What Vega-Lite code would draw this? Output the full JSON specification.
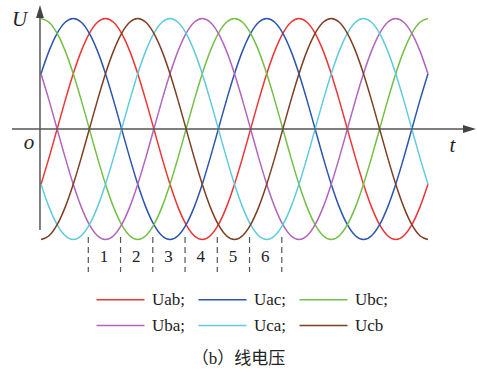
{
  "$schema": "https://vega.github.io/schema/vega-lite/v6.json",
  "width": 477,
  "height": 340,
  "padding": 0,
  "autosize": {"type": "pad"},
  "background": "white",
  "config": {
    "view": {"stroke": null},
    "legend": {
      "orient": "none",
      "legendX": 94,
      "legendY": 291,
      "direction": "horizontal",
      "columns": 3,
      "symbolType": "M-1,0L7,0",
      "symbolSize": 144,
      "symbolStrokeWidth": 1.6,
      "labelFont": "Liberation Serif",
      "labelFontSize": 17,
      "labelColor": "#222",
      "labelOffset": 41,
      "columnPadding": 9,
      "rowPadding": 8,
      "padding": 0
    },
    "title": {"font": "Liberation Serif, Noto Sans CJK SC, serif", "fontSize": 17, "fontWeight": "normal", "color": "#222"}
  },
  "title": {"text": "（b）线电压", "orient": "bottom", "anchor": "middle", "offset": 11},
  "datasets": {
    "waves": [
      {"t": 0, "Uab": -0.5, "Uac": 0.5, "Ubc": 1, "Uba": 0.5, "Uca": -0.5, "Ucb": -1},
      {"t": 15, "Uab": -0.259, "Uac": 0.707, "Ubc": 0.966, "Uba": 0.259, "Uca": -0.707, "Ucb": -0.966},
      {"t": 30, "Uab": 0, "Uac": 0.866, "Ubc": 0.866, "Uba": 0, "Uca": -0.866, "Ucb": -0.866},
      {"t": 45, "Uab": 0.259, "Uac": 0.966, "Ubc": 0.707, "Uba": -0.259, "Uca": -0.966, "Ucb": -0.707},
      {"t": 60, "Uab": 0.5, "Uac": 1, "Ubc": 0.5, "Uba": -0.5, "Uca": -1, "Ucb": -0.5},
      {"t": 75, "Uab": 0.707, "Uac": 0.966, "Ubc": 0.259, "Uba": -0.707, "Uca": -0.966, "Ucb": -0.259},
      {"t": 90, "Uab": 0.866, "Uac": 0.866, "Ubc": 0, "Uba": -0.866, "Uca": -0.866, "Ucb": 0},
      {"t": 105, "Uab": 0.966, "Uac": 0.707, "Ubc": -0.259, "Uba": -0.966, "Uca": -0.707, "Ucb": 0.259},
      {"t": 120, "Uab": 1, "Uac": 0.5, "Ubc": -0.5, "Uba": -1, "Uca": -0.5, "Ucb": 0.5},
      {"t": 135, "Uab": 0.966, "Uac": 0.259, "Ubc": -0.707, "Uba": -0.966, "Uca": -0.259, "Ucb": 0.707},
      {"t": 150, "Uab": 0.866, "Uac": 0, "Ubc": -0.866, "Uba": -0.866, "Uca": 0, "Ucb": 0.866},
      {"t": 165, "Uab": 0.707, "Uac": -0.259, "Ubc": -0.966, "Uba": -0.707, "Uca": 0.259, "Ucb": 0.966},
      {"t": 180, "Uab": 0.5, "Uac": -0.5, "Ubc": -1, "Uba": -0.5, "Uca": 0.5, "Ucb": 1},
      {"t": 195, "Uab": 0.259, "Uac": -0.707, "Ubc": -0.966, "Uba": -0.259, "Uca": 0.707, "Ucb": 0.966},
      {"t": 210, "Uab": 0, "Uac": -0.866, "Ubc": -0.866, "Uba": 0, "Uca": 0.866, "Ucb": 0.866},
      {"t": 225, "Uab": -0.259, "Uac": -0.966, "Ubc": -0.707, "Uba": 0.259, "Uca": 0.966, "Ucb": 0.707},
      {"t": 240, "Uab": -0.5, "Uac": -1, "Ubc": -0.5, "Uba": 0.5, "Uca": 1, "Ucb": 0.5},
      {"t": 255, "Uab": -0.707, "Uac": -0.966, "Ubc": -0.259, "Uba": 0.707, "Uca": 0.966, "Ucb": 0.259},
      {"t": 270, "Uab": -0.866, "Uac": -0.866, "Ubc": 0, "Uba": 0.866, "Uca": 0.866, "Ucb": 0},
      {"t": 285, "Uab": -0.966, "Uac": -0.707, "Ubc": 0.259, "Uba": 0.966, "Uca": 0.707, "Ucb": -0.259},
      {"t": 300, "Uab": -1, "Uac": -0.5, "Ubc": 0.5, "Uba": 1, "Uca": 0.5, "Ucb": -0.5},
      {"t": 315, "Uab": -0.966, "Uac": -0.259, "Ubc": 0.707, "Uba": 0.966, "Uca": 0.259, "Ucb": -0.707},
      {"t": 330, "Uab": -0.866, "Uac": 0, "Ubc": 0.866, "Uba": 0.866, "Uca": 0, "Ucb": -0.866},
      {"t": 345, "Uab": -0.707, "Uac": 0.259, "Ubc": 0.966, "Uba": 0.707, "Uca": -0.259, "Ucb": -0.966},
      {"t": 360, "Uab": -0.5, "Uac": 0.5, "Ubc": 1, "Uba": 0.5, "Uca": -0.5, "Ucb": -1},
      {"t": 375, "Uab": -0.259, "Uac": 0.707, "Ubc": 0.966, "Uba": 0.259, "Uca": -0.707, "Ucb": -0.966},
      {"t": 390, "Uab": 0, "Uac": 0.866, "Ubc": 0.866, "Uba": 0, "Uca": -0.866, "Ucb": -0.866},
      {"t": 405, "Uab": 0.259, "Uac": 0.966, "Ubc": 0.707, "Uba": -0.259, "Uca": -0.966, "Ucb": -0.707},
      {"t": 420, "Uab": 0.5, "Uac": 1, "Ubc": 0.5, "Uba": -0.5, "Uca": -1, "Ucb": -0.5},
      {"t": 435, "Uab": 0.707, "Uac": 0.966, "Ubc": 0.259, "Uba": -0.707, "Uca": -0.966, "Ucb": -0.259},
      {"t": 450, "Uab": 0.866, "Uac": 0.866, "Ubc": 0, "Uba": -0.866, "Uca": -0.866, "Ucb": 0},
      {"t": 465, "Uab": 0.966, "Uac": 0.707, "Ubc": -0.259, "Uba": -0.966, "Uca": -0.707, "Ucb": 0.259},
      {"t": 480, "Uab": 1, "Uac": 0.5, "Ubc": -0.5, "Uba": -1, "Uca": -0.5, "Ucb": 0.5},
      {"t": 495, "Uab": 0.966, "Uac": 0.259, "Ubc": -0.707, "Uba": -0.966, "Uca": -0.259, "Ucb": 0.707},
      {"t": 510, "Uab": 0.866, "Uac": 0, "Ubc": -0.866, "Uba": -0.866, "Uca": 0, "Ucb": 0.866},
      {"t": 525, "Uab": 0.707, "Uac": -0.259, "Ubc": -0.966, "Uba": -0.707, "Uca": 0.259, "Ucb": 0.966},
      {"t": 540, "Uab": 0.5, "Uac": -0.5, "Ubc": -1, "Uba": -0.5, "Uca": 0.5, "Ucb": 1},
      {"t": 555, "Uab": 0.259, "Uac": -0.707, "Ubc": -0.966, "Uba": -0.259, "Uca": 0.707, "Ucb": 0.966},
      {"t": 570, "Uab": 0, "Uac": -0.866, "Ubc": -0.866, "Uba": 0, "Uca": 0.866, "Ucb": 0.866},
      {"t": 585, "Uab": -0.259, "Uac": -0.966, "Ubc": -0.707, "Uba": 0.259, "Uca": 0.966, "Ucb": 0.707},
      {"t": 600, "Uab": -0.5, "Uac": -1, "Ubc": -0.5, "Uba": 0.5, "Uca": 1, "Ucb": 0.5},
      {"t": 615, "Uab": -0.707, "Uac": -0.966, "Ubc": -0.259, "Uba": 0.707, "Uca": 0.966, "Ucb": 0.259},
      {"t": 630, "Uab": -0.866, "Uac": -0.866, "Ubc": 0, "Uba": 0.866, "Uca": 0.866, "Ucb": 0},
      {"t": 645, "Uab": -0.966, "Uac": -0.707, "Ubc": 0.259, "Uba": 0.966, "Uca": 0.707, "Ucb": -0.259},
      {"t": 660, "Uab": -1, "Uac": -0.5, "Ubc": 0.5, "Uba": 1, "Uca": 0.5, "Ucb": -0.5},
      {"t": 675, "Uab": -0.966, "Uac": -0.259, "Ubc": 0.707, "Uba": 0.966, "Uca": 0.259, "Ucb": -0.707},
      {"t": 690, "Uab": -0.866, "Uac": 0, "Ubc": 0.866, "Uba": 0.866, "Uca": 0, "Ucb": -0.866},
      {"t": 705, "Uab": -0.707, "Uac": 0.259, "Ubc": 0.966, "Uba": 0.707, "Uca": -0.259, "Ucb": -0.966},
      {"t": 720, "Uab": -0.5, "Uac": 0.5, "Ubc": 1, "Uba": 0.5, "Uca": -0.5, "Ucb": -1}
    ],
    "axes": [
      {"t": -54, "t2": 790.7, "v": 0, "v2": 0},
      {"t": -1.9, "t2": -1.9, "v": -0.914, "v2": 1.032}
    ],
    "arrows": [
      {"t": -1.9, "v": 1.063, "dir": "up"},
      {"t": 797.2, "v": 0, "dir": "right"}
    ],
    "dividers": [
      {"t": 88, "v": -0.977, "v2": -1.294},
      {"t": 148, "v": -0.977, "v2": -1.294},
      {"t": 208, "v": -0.977, "v2": -1.294},
      {"t": 268, "v": -0.977, "v2": -1.294},
      {"t": 328, "v": -0.977, "v2": -1.294},
      {"t": 388, "v": -0.977, "v2": -1.294},
      {"t": 448, "v": -0.977, "v2": -1.294}
    ],
    "intervals": [
      {"t": 117, "v": -1.158, "label": "1"},
      {"t": 177, "v": -1.158, "label": "2"},
      {"t": 237, "v": -1.158, "label": "3"},
      {"t": 297, "v": -1.158, "label": "4"},
      {"t": 357, "v": -1.158, "label": "5"},
      {"t": 417, "v": -1.158, "label": "6"}
    ],
    "axisLabels": [
      {"t": -40, "v": 0.986, "label": "U"},
      {"t": -22.3, "v": -0.127, "label": "o"},
      {"t": 765.6, "v": -0.154, "label": "t"}
    ]
  },
  "encoding": {
    "x": {"field": "t", "type": "quantitative", "scale": {"domain": [-76.3, 811.2], "nice": false, "zero": false}, "axis": null},
    "y": {"field": "v", "type": "quantitative", "scale": {"domain": [-1.9095, 1.1674], "nice": false, "zero": false}, "axis": null}
  },
  "layer": [
    {
      "data": {"name": "waves"},
      "transform": [{"fold": ["Uab", "Uac", "Ubc", "Uba", "Uca", "Ucb"], "as": ["series", "v"]}],
      "mark": {"type": "line", "strokeWidth": 1.5, "interpolate": "monotone"},
      "encoding": {
        "color": {
          "field": "series", "type": "nominal",
          "scale": {"domain": ["Uab", "Uac", "Ubc", "Uba", "Uca", "Ucb"], "range": ["#EE3535", "#2C55AE", "#74C046", "#B165BC", "#5FCCDB", "#7D3F22"]},
          "legend": {"title": null, "labelExpr": "datum.label == 'Ucb' ? datum.label : datum.label + ';'"}
        }
      }
    },
    {
      "data": {"name": "axes"},
      "mark": {"type": "rule", "color": "#555", "strokeWidth": 1.5},
      "encoding": {"x2": {"field": "t2"}, "y2": {"field": "v2"}}
    },
    {
      "data": {"name": "arrows"},
      "mark": {"type": "point", "filled": true, "color": "#444", "size": 169, "opacity": 1},
      "encoding": {
        "shape": {"field": "dir", "type": "nominal", "scale": {"domain": ["up", "right"], "range": ["M-0.6,1L0,-1L0.6,1Z", "M-1,-0.6L1,0L-1,0.6Z"]}, "legend": null}
      }
    },
    {
      "data": {"name": "dividers"},
      "mark": {"type": "rule", "color": "#555", "strokeWidth": 1.2, "strokeDash": [6, 4]},
      "encoding": {"y2": {"field": "v2"}}
    },
    {
      "data": {"name": "intervals"},
      "mark": {"type": "text", "font": "Liberation Serif", "fontSize": 17, "color": "#222", "baseline": "middle", "align": "center"},
      "encoding": {"text": {"field": "label"}}
    },
    {
      "data": {"name": "axisLabels"},
      "mark": {"type": "text", "font": "Liberation Serif", "fontStyle": "italic", "fontSize": 21, "color": "#222", "baseline": "middle", "align": "center"},
      "encoding": {"text": {"field": "label"}}
    }
  ]
}
